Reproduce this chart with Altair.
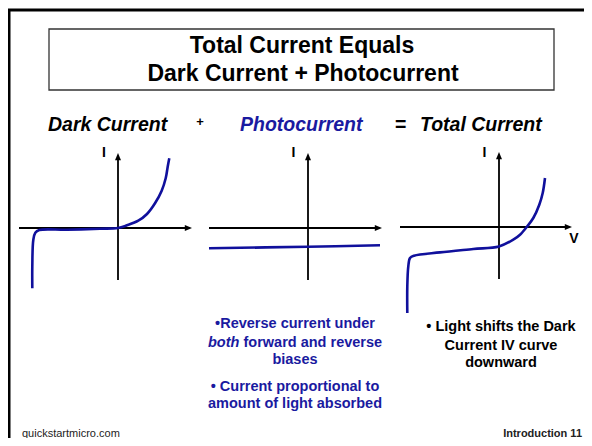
import altair as alt
import pandas as pd

# ---------------- data ----------------
# Each curve is given as (V, I) relative to its own panel's axis crossing.
dark_v = [-85.7, -85.7, -84.7, -82.7, -78.7, -51.3, -18.0, 0.0, 9.0, 20.3, 29.0, 37.0, 43.7, 47.7, 49.7, 51.3]
dark_i = [-60.3, -38.7, -12.0, -4.7, -2.0, -1.7, -0.7, 0.0, 2.7, 7.3, 14.0, 24.7, 37.3, 49.7, 61.3, 69.7]

photo_v = [-99.0, 0.0, 72.0]
photo_i = [-20.3, -18.7, -17.3]

total_v = [-91.7, -91.7, -90.7, -89.0, -85.0, -59.0, -25.7, 0.0, 14.3, 21.0, 27.7, 34.3, 40.3, 43.7, 46.0]
total_i = [-86.0, -59.4, -39.4, -31.0, -28.7, -25.4, -22.0, -19.4, -12.7, -7.7, 0.0, 9.0, 22.3, 34.0, 49.0]

panels = ["dark", "photo", "total"]

title_lines = ["Total Current Equals", "Dark Current + Photocurrent"]
header_black = ["Dark Current", "Total Current"]
header_blue = ["Photocurrent"]
header_ops = ["+", "="]
axis_i_label = "I"
axis_v_label = "V"
notes_left = ["\u2022Reverse current under", "biases", "\u2022 Current proportional to", "amount of light absorbed"]
notes_left_italic = "both"
notes_left_rest = "forward and reverse"
notes_right = ["\u2022 Light shifts the Dark", "Current IV curve", "downward"]
footer_left = "quickstartmicro.com"
footer_right = "Introduction 11"

# ---------------- layout (page pixels) ----------------
W, H = 576, 430
ORIGIN = {"dark": (118, 228), "photo": (308, 228), "total": (499, 227)}
V_EXT = {"dark": (-99, 74), "photo": (-99, 74), "total": (-99, 73)}
I_EXT = (-52, 75)
FONT = "Liberation Sans"
BLUE_LINE = "#10109c"
BLUE_TEXT = "#1a1aa0"

xs = alt.Scale(domain=[8, 8 + W], nice=False, zero=False)
ys = alt.Scale(domain=[8, 8 + H], nice=False, zero=False, reverse=True)
X = alt.X("px:Q", scale=xs, axis=None)
Y = alt.Y("py:Q", scale=ys, axis=None)

# curves
rows = []
for name, vv, ii in [("dark", dark_v, dark_i), ("photo", photo_v, photo_i), ("total", total_v, total_i)]:
    ox, oy = ORIGIN[name]
    for k, (v, i) in enumerate(zip(vv, ii)):
        rows.append({"panel": name, "k": k, "px": ox + v, "py": oy - i})
curve_df = pd.DataFrame(rows)

curves = alt.Chart(curve_df).mark_line(
    color=BLUE_LINE, strokeWidth=2.6, interpolate="catmull-rom", clip=False
).encode(x=X, y=Y, detail="panel:N", order="k:Q")

# axes
ax_rows = []
tip_up, tip_right = [], []
for name in panels:
    ox, oy = ORIGIN[name]
    v0, v1 = V_EXT[name]
    ax_rows.append({"px": ox + v0, "py": oy, "px2": ox + v1 - 3, "py2": oy})
    ax_rows.append({"px": ox, "py": oy - I_EXT[0], "px2": ox, "py2": oy - I_EXT[1] + 3})
    tip_up.append({"px": ox, "py": oy - I_EXT[1] + 4})
    tip_right.append({"px": ox + v1 - 4, "py": oy})
ax_df = pd.DataFrame(ax_rows)
axes = alt.Chart(ax_df).mark_rule(color="black", strokeWidth=1.8).encode(
    x=X, y=Y, x2="px2:Q", y2="py2:Q"
)
arrow_up = alt.Chart(pd.DataFrame(tip_up)).mark_point(
    shape="M0,-1L0.75,0.8L-0.75,0.8Z", size=64, filled=True, color="black", opacity=1
).encode(x=X, y=Y)
arrow_right = alt.Chart(pd.DataFrame(tip_right)).mark_point(
    shape="M1,0L-0.8,0.75L-0.8,-0.75Z", size=64, filled=True, color="black", opacity=1
).encode(x=X, y=Y)

# frame lines and title box
frame_df = pd.DataFrame([
    {"px": 8, "py": 10, "px2": 8 + W, "py2": 10},
    {"px": 9, "py": 9, "px2": 9, "py2": 8 + H},
])
frame = alt.Chart(frame_df).mark_rule(color="black", strokeWidth=3).encode(
    x=X, y=Y, x2="px2:Q", y2="py2:Q"
)
box_df = pd.DataFrame([{"px": 49, "py": 29, "px2": 554, "py2": 90}])
box = alt.Chart(box_df).mark_rect(fill=None, stroke="#333333", strokeWidth=1.3).encode(
    x=X, y=Y, x2="px2:Q", y2="py2:Q"
)


def text_layer(items, **mk):
    df = pd.DataFrame(items, columns=["text", "px", "py"])
    return alt.Chart(df).mark_text(font=FONT, baseline="alphabetic", **mk).encode(
        x=X, y=Y, text="text:N"
    )


t_title = text_layer(
    [(title_lines[0], 302, 53), (title_lines[1], 303, 81)],
    fontSize=23, fontWeight="bold", align="center", color="black",
)
t_head_black = text_layer(
    [(header_black[0], 48, 131), (header_black[1], 420, 131)],
    fontSize=19.5, fontWeight="bold", fontStyle="italic", align="left", color="black",
)
t_head_blue = text_layer(
    [(header_blue[0], 240, 131)],
    fontSize=19.5, fontWeight="bold", fontStyle="italic", align="left", color=BLUE_TEXT,
)
t_plus = text_layer([(header_ops[0], 200, 126)], fontSize=13, fontWeight="bold", align="center", color="black")
t_eq = text_layer([(header_ops[1], 395, 131)], fontSize=19.5, fontWeight="bold", align="left", color="black")
t_axlab = text_layer(
    [(axis_i_label, 104, 157), (axis_i_label, 293.5, 157), (axis_i_label, 484.5, 157), (axis_v_label, 574, 243)],
    fontSize=14, fontWeight="bold", align="center", color="black",
)
t_notes_l = text_layer(
    [(notes_left[0], 295, 328), (notes_left[1], 295, 364), (notes_left[2], 295, 391), (notes_left[3], 295, 408)],
    fontSize=14.5, fontWeight="bold", align="center", color=BLUE_TEXT,
)
t_notes_it = text_layer(
    [(notes_left_italic, 208, 347)],
    fontSize=14.5, fontWeight="bold", fontStyle="italic", align="left", color=BLUE_TEXT,
)
t_notes_rest = text_layer(
    [(notes_left_rest, 243.5, 347)],
    fontSize=14.5, fontWeight="bold", align="left", color=BLUE_TEXT,
)
t_notes_r = text_layer(
    [(notes_right[0], 501, 331), (notes_right[1], 501, 350), (notes_right[2], 501, 367)],
    fontSize=14.5, fontWeight="bold", align="center", color="black",
)
t_foot_l = text_layer([(footer_left, 22, 437)], fontSize=11, align="left", color="#222222")
t_foot_r = text_layer([(footer_right, 582, 437)], fontSize=11, fontWeight="bold", align="right", color="#222222")

chart = alt.layer(
    frame, box, axes, arrow_up, arrow_right, curves,
    t_title, t_head_black, t_head_blue, t_plus, t_eq, t_axlab,
    t_notes_l, t_notes_it, t_notes_rest, t_notes_r, t_foot_l, t_foot_r,
).properties(
    width=W, height=H, padding=0, autosize="none", background="white"
).configure_view(stroke=None)

chart.save("out.html", embed_options={"renderer": "svg", "actions": False})
